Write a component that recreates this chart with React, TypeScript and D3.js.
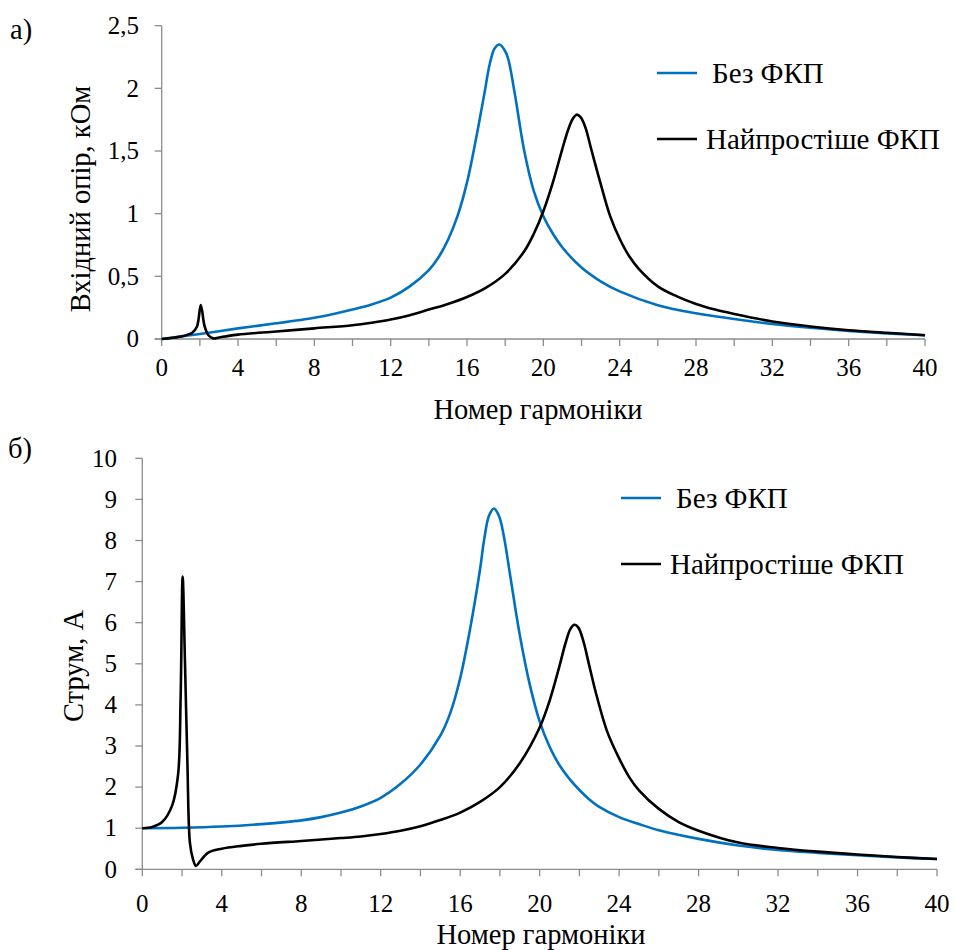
import React from "react";
import * as d3 from "d3";

// ---------- DATA ----------
const xTickLabels = [0, 4, 8, 12, 16, 20, 24, 28, 32, 36, 40];
const xMinorTicks = d3.range(0, 41, 2);

const topYTicks = [0, 0.5, 1, 1.5, 2, 2.5];
const topYLabels = ["0", "0,5", "1", "1,5", "2", "2,5"];
const botYTicks = [0, 1, 2, 3, 4, 5, 6, 7, 8, 9, 10];
const botYLabels = ["0", "1", "2", "3", "4", "5", "6", "7", "8", "9", "10"];

const seriesNames = ["Без ФКП", "Найпростіше ФКП"];

// a) input impedance, kOhm
const topBlueN = [0, 2, 4, 6, 8, 9, 10, 11, 12, 13, 14, 14.5, 15, 15.5, 16, 16.5, 16.9, 17.2, 17.45, 17.7, 17.95, 18.15, 18.5, 19, 19.5, 20, 20.5, 21, 22, 23, 24, 26, 28, 30, 32, 34, 36, 38, 40];
const topBlueZ = [0, 0.04, 0.085, 0.125, 0.17, 0.2, 0.235, 0.275, 0.33, 0.42, 0.55, 0.65, 0.79, 0.98, 1.25, 1.62, 1.95, 2.2, 2.32, 2.35, 2.31, 2.24, 1.96, 1.5, 1.18, 0.98, 0.84, 0.73, 0.57, 0.46, 0.38, 0.27, 0.205, 0.16, 0.12, 0.09, 0.065, 0.045, 0.03];

const topBlackN = [0, 1, 1.6, 1.85, 2.05, 2.25, 2.45, 2.7, 3, 3.5, 4, 6, 8, 10, 11, 12, 13, 14, 15, 16, 17, 18, 19, 19.5, 20, 20.5, 21, 21.3, 21.55, 21.75, 21.95, 22.2, 22.5, 23, 23.5, 24, 24.5, 25, 26, 27, 28, 29, 30, 32, 34, 36, 38, 40];
const topBlackZ = [0, 0.02, 0.05, 0.1, 0.27, 0.1, 0.03, 0.005, 0.012, 0.025, 0.035, 0.06, 0.085, 0.11, 0.13, 0.155, 0.19, 0.235, 0.28, 0.335, 0.41, 0.52, 0.7, 0.84, 1.02, 1.25, 1.52, 1.67, 1.76, 1.79, 1.77, 1.69, 1.52, 1.24, 0.98, 0.8, 0.66, 0.56, 0.42, 0.34, 0.28, 0.235, 0.2, 0.14, 0.1, 0.07, 0.05, 0.03];

// б) current, A
const botBlueN = [0, 2, 4, 6, 8, 9, 10, 11, 12, 13, 14, 15, 15.5, 16, 16.5, 17, 17.2, 17.45, 17.7, 17.95, 18.2, 18.5, 19, 19.5, 20, 20.5, 21, 21.5, 22, 22.5, 23, 24, 25, 26, 28, 30, 32, 34, 36, 38, 40];
const botBlueI = [1.0, 1.01, 1.04, 1.1, 1.19, 1.27, 1.38, 1.53, 1.74, 2.08, 2.55, 3.25, 3.8, 4.65, 5.85, 7.3, 8.0, 8.6, 8.78, 8.6, 8.1, 7.2, 5.7, 4.5, 3.6, 2.98, 2.53, 2.2, 1.93, 1.7, 1.52, 1.27, 1.1, 0.95, 0.74, 0.58, 0.47, 0.4, 0.34, 0.29, 0.25];

const botBlackN = [0, 0.5, 1, 1.5, 1.8, 1.93, 2.03, 2.15, 2.27, 2.4, 2.55, 2.7, 2.9, 3.3, 4, 5, 6, 8, 10, 11, 12, 13, 14, 15, 16, 17, 18, 19, 20, 20.5, 21, 21.3, 21.55, 21.75, 21.95, 22.2, 22.5, 22.8, 23.4, 24, 24.5, 25, 26, 27, 28, 30, 32, 34, 36, 38, 40];
const botBlackI = [1.0, 1.03, 1.15, 1.55, 2.3, 4.2, 7.12, 5.0, 2.6, 0.63, 0.25, 0.08, 0.19, 0.4, 0.5, 0.57, 0.62, 0.69, 0.76, 0.8, 0.86, 0.94, 1.05, 1.2, 1.38, 1.64, 2.0, 2.58, 3.45, 4.1, 4.95, 5.5, 5.85, 5.95, 5.88, 5.55, 4.95, 4.35, 3.35, 2.7, 2.25, 1.92, 1.47, 1.15, 0.94, 0.65, 0.52, 0.43, 0.36, 0.3, 0.25];

// ---------- STYLE ----------
const BLUE = "#0070C0";
const BLACK = "#000000";
const AXIS = "#8c8c8c";
const FONT = "Liberation Serif";
const txt = (size: number) => ({ fontFamily: FONT, fontSize: size + "px" });
const TICK = 25;
const TITLE = 28.5;
const LEG = 29;

type PanelProps = {
  xr: [number, number];
  yr: [number, number];
  yMax: number;
  yTicks: number[];
  yLabels: string[];
  yLabelX: number;
  xLabelY: number;
  xTitleY: number;
  xTitleX: number;
  yTitle: string;
  yTitleX: number;
  yTitleY: number;
  panelLabel: string;
  panelLabelX: number;
  panelLabelY: number;
  blue: [number[], number[]];
  black: [number[], number[]];
  legX: number;
  legTextX: [number, number];
  legY: [number, number];
};

function Panel(p: PanelProps) {
  const x = d3.scaleLinear().domain([0, 40]).range(p.xr);
  const y = d3.scaleLinear().domain([0, p.yMax]).range(p.yr);
  const line = d3
    .line<[number, number]>()
    .x((d) => x(d[0]))
    .y((d) => y(d[1]))
    .curve(d3.curveCatmullRom.alpha(0.5));
  const pts = (s: [number[], number[]]) => s[0].map((n, i) => [n, s[1][i]] as [number, number]);
  return (
    <g>
      <line x1={x(0)} x2={x(0)} y1={y(0)} y2={y(p.yMax)} stroke={AXIS} strokeWidth={1.3} />
      <line x1={x(0) - 7} x2={x(40)} y1={y(0)} y2={y(0)} stroke={AXIS} strokeWidth={1.3} />
      {p.yTicks.map((t) => (
        <line key={"yt" + t} x1={x(0) - 7} x2={x(0)} y1={y(t)} y2={y(t)} stroke={AXIS} strokeWidth={1.3} />
      ))}
      {xMinorTicks.map((t) => (
        <line key={"xt" + t} x1={x(t)} x2={x(t)} y1={y(0)} y2={y(0) + 7} stroke={AXIS} strokeWidth={1.3} />
      ))}
      {p.yTicks.map((t, i) => (
        <text key={"yl" + t} x={p.yLabelX} y={y(t)} dy="0.33em" textAnchor="end" style={txt(TICK)} fill="#000">
          {p.yLabels[i]}
        </text>
      ))}
      {xTickLabels.map((t) => (
        <text key={"xl" + t} x={x(t)} y={p.xLabelY} textAnchor="middle" style={txt(TICK)} fill="#000">
          {t}
        </text>
      ))}
      <path d={line(pts(p.blue)) || ""} fill="none" stroke={BLUE} strokeWidth={2.6} strokeLinejoin="round" />
      <path d={line(pts(p.black)) || ""} fill="none" stroke={BLACK} strokeWidth={2.6} strokeLinejoin="round" />
      <text x={p.xTitleX} y={p.xTitleY} textAnchor="middle" style={txt(TITLE)} fill="#000">
        Номер гармоніки
      </text>
      <text transform={`translate(${p.yTitleX},${p.yTitleY}) rotate(-90)`} textAnchor="middle" style={txt(TITLE)} fill="#000">
        {p.yTitle}
      </text>
      <text x={p.panelLabelX} y={p.panelLabelY} style={txt(TITLE)} fill="#000">
        {p.panelLabel}
      </text>
      <line x1={p.legX} x2={p.legX + 40} y1={p.legY[0]} y2={p.legY[0]} stroke={BLUE} strokeWidth={2.6} />
      <text x={p.legTextX[0]} y={p.legY[0]} dy="0.36em" style={txt(LEG)} fill="#000">
        {seriesNames[0]}
      </text>
      <line x1={p.legX} x2={p.legX + 40} y1={p.legY[1]} y2={p.legY[1]} stroke={BLACK} strokeWidth={2.6} />
      <text x={p.legTextX[1]} y={p.legY[1]} dy="0.36em" style={txt(LEG)} fill="#000">
        {seriesNames[1]}
      </text>
    </g>
  );
}

export default function App() {
  return (
    <svg width={955} height={950} style={{ position: "absolute", left: 0, top: 0, background: "#fff" }}>
      <rect width={955} height={950} fill="#fff" />
      <Panel
        xr={[161.7, 925]}
        yr={[339, 25.7]}
        yMax={2.5}
        yTicks={topYTicks}
        yLabels={topYLabels}
        yLabelX={139}
        xLabelY={376}
        xTitleX={538}
        xTitleY={419}
        yTitle="Вхідний опір, кОм"
        yTitleX={90}
        yTitleY={199}
        panelLabel="а)"
        panelLabelX={10}
        panelLabelY={39}
        blue={[topBlueN, topBlueZ]}
        black={[topBlackN, topBlackZ]}
        legX={657}
        legTextX={[712, 706]}
        legY={[73, 139]}
      />
      <Panel
        xr={[142.3, 937]}
        yr={[869.3, 458.3]}
        yMax={10}
        yTicks={botYTicks}
        yLabels={botYLabels}
        yLabelX={117}
        xLabelY={912}
        xTitleX={541}
        xTitleY={944}
        yTitle="Струм, А"
        yTitleX={83}
        yTitleY={666}
        panelLabel="б)"
        panelLabelX={8}
        panelLabelY={458}
        blue={[botBlueN, botBlueI]}
        black={[botBlackN, botBlackI]}
        legX={621}
        legTextX={[676, 670]}
        legY={[498, 564]}
      />
    </svg>
  );
}
